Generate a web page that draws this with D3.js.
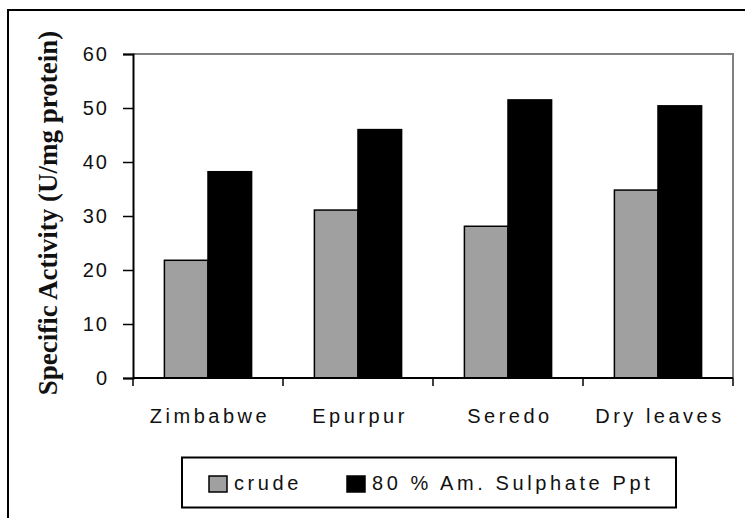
<!DOCTYPE html>
<html>
<head>
<meta charset="utf-8">
<script src="https://cdn.jsdelivr.net/npm/d3@7"></script>
<style>
  body { margin: 0; background: #fff; }
  text { font-family: "Liberation Sans", Arial, sans-serif; fill: #111; }
</style>
</head>
<body>
<div id="chart"></div>
<script>
const categories = ["Zimbabwe", "Epurpur", "Seredo", "Dry leaves"];
const crude = [21.8, 31.1, 28.1, 34.8];
const sulphate = [38.2, 46.0, 51.5, 50.4];
const yTicks = [0, 10, 20, 30, 40, 50, 60];
const seriesNames = ["crude", "80 % Am. Sulphate Ppt"];
const seriesColors = ["#a0a0a0", "#000000"];

const width = 745;
const height = 518;
const plot = { left: 133, right: 733, top: 54, bottom: 378 };

const svg = d3
  .select("#chart")
  .append("svg")
  .attr("width", width)
  .attr("height", height);

// outer frame (cut off on right and bottom)
svg
  .append("rect")
  .attr("x", 8)
  .attr("y", 10)
  .attr("width", 800)
  .attr("height", 600)
  .attr("fill", "none")
  .attr("stroke", "#000")
  .attr("stroke-width", 2);

const x = d3
  .scaleBand()
  .domain(categories)
  .range([plot.left, plot.right])
  .padding(0);

const x1 = d3
  .scaleBand()
  .domain(seriesNames)
  .range([0, x.bandwidth()])
  .paddingInner(0)
  .paddingOuter(0.72);

const y = d3
  .scaleLinear()
  .domain([0, 60])
  .range([plot.bottom, plot.top]);

// plot area frame: gray top and right
svg
  .append("path")
  .attr("d", `M${plot.left},${plot.top}H${plot.right}V${plot.bottom}`)
  .attr("fill", "none")
  .attr("stroke", "#808080")
  .attr("stroke-width", 2);

// bars
const rows = categories.map((c, i) => ({ key: c, values: [crude[i], sulphate[i]] }));
const groups = svg
  .selectAll(".group")
  .data(rows)
  .enter()
  .append("g")
  .attr("class", "group")
  .attr("transform", (d) => "translate(" + x(d.key) + ",0)");

groups
  .selectAll("rect")
  .data((d) => d.values.map((v, j) => ({ name: seriesNames[j], value: v, j: j })))
  .enter()
  .append("rect")
  .attr("x", (d) => x1(d.name))
  .attr("y", (d) => y(d.value))
  .attr("width", x1.bandwidth())
  .attr("height", (d) => y(0) - y(d.value))
  .attr("fill", (d) => seriesColors[d.j])
  .attr("stroke", "#000")
  .attr("stroke-width", 1.5);

// y axis
const yAxis = svg
  .append("g")
  .attr("class", "y axis")
  .attr("transform", "translate(" + plot.left + ",0)")
  .call(d3.axisLeft(y).tickValues(yTicks).tickSizeOuter(0).tickSize(10).tickPadding(14));
yAxis.select(".domain").attr("stroke", "#000").attr("stroke-width", 2);
yAxis.selectAll(".tick line").attr("stroke", "#000").attr("stroke-width", 1.5);
yAxis
  .selectAll(".tick text")
  .style("font-size", "20px")
  .style("letter-spacing", "2px")
  .attr("fill", "#111");

// x axis, ticks at the category boundaries
const xAxis = svg
  .append("g")
  .attr("class", "x axis")
  .attr("transform", "translate(0," + plot.bottom + ")");
xAxis
  .append("line")
  .attr("x1", plot.left)
  .attr("x2", plot.right)
  .attr("stroke", "#000")
  .attr("stroke-width", 2);
xAxis
  .selectAll(".bound")
  .data(categories.concat([null]))
  .enter()
  .append("line")
  .attr("class", "bound")
  .attr("x1", (d) => (d ? x(d) : plot.right))
  .attr("x2", (d) => (d ? x(d) : plot.right))
  .attr("y1", 0)
  .attr("y2", 8)
  .attr("stroke", "#000")
  .attr("stroke-width", 1.5);
xAxis
  .selectAll(".label")
  .data(categories)
  .enter()
  .append("text")
  .attr("class", "label")
  .attr("x", (d) => x(d) + x.bandwidth() / 2 + 2)
  .attr("y", 45)
  .attr("text-anchor", "middle")
  .style("font-size", "20px")
  .style("letter-spacing", "3.5px")
  .text((d) => d);

// y title
svg
  .append("text")
  .attr("transform", "translate(57,213) rotate(-90)")
  .attr("text-anchor", "middle")
  .style("font-family", "'Liberation Serif', 'Times New Roman', serif")
  .style("font-weight", "bold")
  .style("font-size", "27px")
  .text("Specific Activity (U/mg protein)");

// legend
const legend = svg.append("g").attr("class", "legend");
legend
  .append("rect")
  .attr("x", 182)
  .attr("y", 457.5)
  .attr("width", 494)
  .attr("height", 50)
  .attr("fill", "#fff")
  .attr("stroke", "#000")
  .attr("stroke-width", 2);
const legendX = [209, 347];
seriesNames.forEach((name, i) => {
  legend
    .append("rect")
    .attr("x", legendX[i])
    .attr("y", 476)
    .attr("width", 18)
    .attr("height", 16)
    .attr("fill", seriesColors[i])
    .attr("stroke", "#000")
    .attr("stroke-width", 1.5);
  legend
    .append("text")
    .attr("x", legendX[i] + 25)
    .attr("y", 490)
    .style("font-size", "20px")
    .style("letter-spacing", "3.6px")
    .text(name);
});
</script>
</body>
</html>
